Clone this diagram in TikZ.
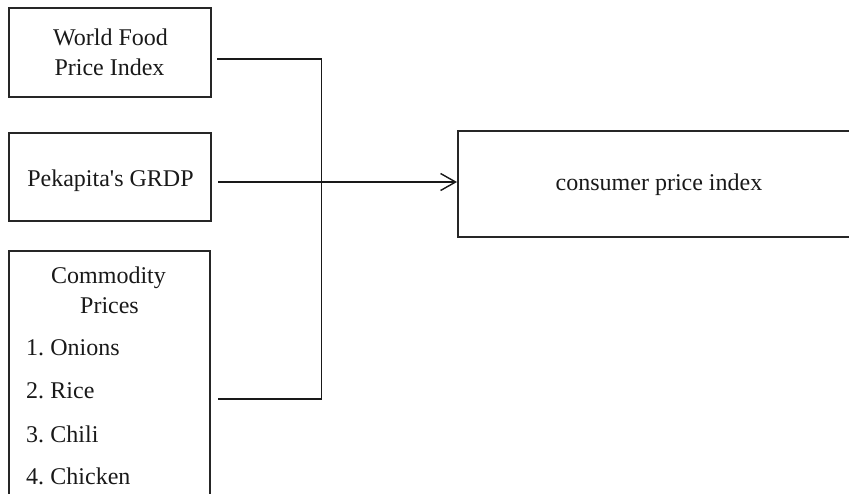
\documentclass[tikz,border=0pt]{standalone}
\usepackage{fontspec}
\setmainfont{Liberation Serif}
\usetikzlibrary{arrows.meta}
\begin{document}
\begin{tikzpicture}[x=1pt,y=-1pt,
  box/.style={draw=black!85,line width=2pt,rectangle,inner sep=0pt},
  txt/.style={anchor=base,inner sep=0pt,font=\fontsize{24}{30}\selectfont,text=black!90},
  conn/.style={draw=black!90,line width=1.4pt},
  tip/.style={-{Straight Barb[length=15pt,width=17pt,line width=1.4pt]}}]
\useasboundingbox (0,0) rectangle (849,493);
\clip (0,0) rectangle (849,493);
% boxes
\node[box,minimum width=202pt,minimum height=89pt] (b1) at (110,52.5) {};
\node[box,minimum width=202pt,minimum height=88pt] (b2) at (110,177) {};
\node[box,minimum width=201pt,minimum height=296pt] (b3) at (109.5,399) {};
\node[box,minimum width=402pt,minimum height=106pt] (cpi) at (659,184) {};
% texts
\node[txt] (t1a) at (110.5,45) {World Food};
\node[txt] (t1b) at (109.5,75) {Price Index};
\node[txt] (t2) at (110.5,186) {Pekapita\textquotesingle s GRDP};
\node[txt] (tc) at (659,190) {consumer price index};
\node[txt] (t3a) at (108.5,283) {Commodity};
\node[txt] (t3b) at (109.5,313) {Prices};
\node[txt,anchor=base west] (t3c) at (26,355) {1.\hspace{0.26em}Onions};
\node[txt,anchor=base west] (t3d) at (26,398) {2.\hspace{0.26em}Rice};
\node[txt,anchor=base west] (t3e) at (26,442) {3.\hspace{0.26em}Chili};
\node[txt,anchor=base west] (t3f) at (26,484) {4.\hspace{0.26em}Chicken};
% connectors
\coordinate (j1) at (321.5,59);
\coordinate (j3) at (321.5,399);
\coordinate (s1) at (217,59);
\coordinate (s2) at ([xshift=6pt]b2.east);
\coordinate (s3) at ([xshift=7pt]b3.east);
\draw[conn] (s1) -- (j1) -- (j3) -- (s3);
\draw[conn,tip] (s2 |- 0,182) -- (cpi.west |- 0,182);
\end{tikzpicture}
\end{document}
